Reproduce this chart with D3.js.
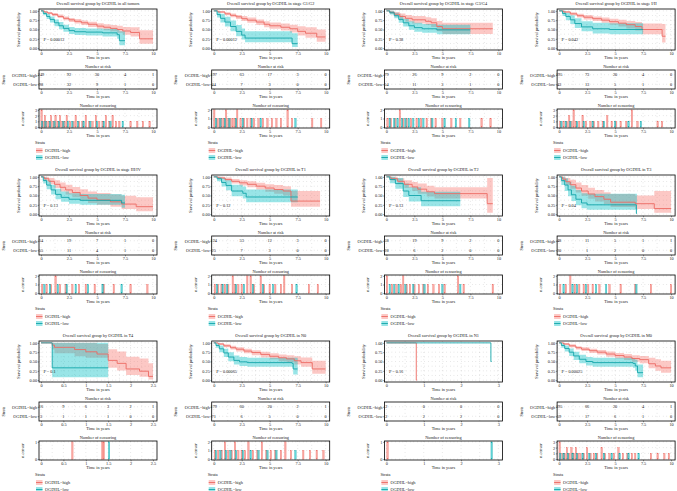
<!DOCTYPE html>
<html><head><meta charset="utf-8">
<script src="https://cdn.jsdelivr.net/npm/d3@7"></script>
<style>
body{margin:0;background:#fff;}
svg{display:block;font-family:"Liberation Serif","DejaVu Serif",serif;}
</style></head><body>
<svg id="fig" width="677" height="491"></svg>
<script>
// ---- data (12 Kaplan–Meier panels, row-major) ----
const TITLES = [
  'Overall survival group by OGDHL in all tumors',
  'Overall survival group by OGDHL in stage G1/G2',
  'Overall survival group by OGDHL in stage G3/G4',
  'Overall survival group by OGDHL in stage I/II',
  'Overall survival group by OGDHL in stage III/IV',
  'Overall survival group by OGDHL in T1',
  'Overall survival group by OGDHL in T2',
  'Overall survival group by OGDHL in T3',
  'Overall survival group by OGDHL in T4',
  'Overall survival group by OGDHL in N0',
  'Overall survival group by OGDHL in N1',
  'Overall survival group by OGDHL in M0'
];
const PVALS = ['P = 0.00013','P = 0.00012','P = 0.38','P = 0.042','P = 0.13','P = 0.12',
               'P = 0.13','P = 0.04','P = 0.1','P = 0.00065','P = 0.16','P = 0.00025'];
const XMAX = [10,10,10,10,10,10,10,10,2.5,10,3,10];
const XTICKS = [
  [0,2.5,5,7.5,10],[0,2.5,5,7.5,10],[0,2.5,5,7.5,10],[0,2.5,5,7.5,10],
  [0,2.5,5,7.5,10],[0,2.5,5,7.5,10],[0,2.5,5,7.5,10],[0,2.5,5,7.5,10],
  [0,0.5,1,1.5,2,2.5],[0,2.5,5,7.5,10],[0,1,2,3],[0,2.5,5,7.5,10]
];
const RISK_HIGH = [[249,92,30,4,1],[197,63,17,3,0],[79,26,9,2,0],[195,73,20,4,0],
  [54,19,7,1,0],[124,53,12,3,0],[58,19,9,2,0],[48,11,5,1,1],
  [16,9,6,3,2,1],[179,60,20,2,1],[2,0,0,0],[195,66,20,4,1]];
const RISK_LOW = [[98,32,9,1,0],[44,7,3,0,0],[54,11,3,1,0],[43,13,5,1,0],
  [55,11,4,1,0],[25,7,3,0,0],[28,6,2,0,0],[20,1,2,0,0],
  [3,1,1,1,0,0],[71,6,5,0,0],[2,2,2,0],[59,17,6,1,0]];
const CENS_MAX = [3,2,2,3,2,2,2,2,1,2,1,3];

// survival steps: [time, surv, lower, upper]
const SURV_HIGH = [
  [[0,1,1,1],[0.3,0.97,0.95,0.99],[0.6,0.94,0.91,0.97],[1,0.9,0.86,0.94],[1.5,0.85,0.81,0.9],[2,0.8,0.75,0.85],[2.5,0.76,0.7,0.81],[3,0.72,0.66,0.78],[3.6,0.68,0.62,0.74],[4.2,0.64,0.57,0.71],[5,0.59,0.52,0.67],[5.6,0.56,0.48,0.64],[6.2,0.53,0.45,0.62],[6.8,0.5,0.41,0.6],[7.3,0.46,0.36,0.57],[8,0.42,0.31,0.56],[8.8,0.25,0.12,0.48],[10,0.25,0.12,0.48]],
  [[0,1,1,1],[0.4,0.97,0.95,0.99],[1,0.92,0.88,0.96],[1.5,0.88,0.83,0.93],[2,0.84,0.78,0.89],[2.5,0.79,0.73,0.86],[3,0.75,0.68,0.82],[3.8,0.7,0.62,0.77],[4.5,0.64,0.56,0.72],[5,0.6,0.52,0.69],[6,0.56,0.47,0.66],[6.8,0.52,0.42,0.63],[7.5,0.45,0.34,0.59],[8.2,0.4,0.28,0.56],[9.2,0.3,0.17,0.5],[10,0.3,0.17,0.5]],
  [[0,1,1,1],[0.3,0.96,0.92,1],[0.7,0.91,0.85,0.97],[1.2,0.85,0.77,0.93],[1.7,0.8,0.71,0.89],[2.3,0.76,0.66,0.86],[3.5,0.72,0.62,0.83],[4,0.68,0.57,0.8],[4.5,0.58,0.45,0.73],[5,0.52,0.38,0.68],[9.5,0.52,0.38,0.68]],
  [[0,1,1,1],[0.4,0.97,0.95,0.99],[1,0.92,0.88,0.96],[1.6,0.87,0.82,0.92],[2.2,0.83,0.77,0.89],[3,0.79,0.73,0.85],[3.8,0.75,0.68,0.82],[4.5,0.71,0.63,0.79],[5.3,0.67,0.58,0.76],[6,0.63,0.53,0.73],[6.8,0.58,0.47,0.7],[7.4,0.5,0.37,0.66],[9,0.5,0.37,0.66],[9.2,0.32,0.15,0.65],[9.5,0.32,0.15,0.65]],
  [[0,1,1,1],[0.3,0.95,0.89,1],[0.7,0.88,0.8,0.97],[1.2,0.8,0.7,0.91],[1.7,0.72,0.61,0.85],[2.2,0.65,0.53,0.79],[2.8,0.58,0.45,0.73],[3.5,0.5,0.37,0.67],[4.2,0.43,0.3,0.61],[5,0.38,0.25,0.57],[6.2,0.33,0.2,0.53],[7.2,0.27,0.14,0.49],[8.5,0.2,0.08,0.45],[10,0.2,0.08,0.45]],
  [[0,1,1,1],[0.4,0.97,0.94,1],[1,0.93,0.88,0.98],[1.6,0.88,0.82,0.94],[2.3,0.84,0.77,0.91],[3,0.8,0.72,0.88],[3.8,0.75,0.66,0.84],[4.6,0.7,0.6,0.8],[5.4,0.66,0.55,0.78],[6.2,0.62,0.5,0.75],[6.9,0.35,0.2,0.62],[9.5,0.35,0.2,0.62]],
  [[0,1,1,1],[0.4,0.95,0.9,1],[1,0.88,0.8,0.96],[1.6,0.8,0.7,0.91],[2.3,0.73,0.62,0.86],[2.8,0.67,0.55,0.82],[3.6,0.6,0.47,0.76],[4.3,0.55,0.42,0.72],[8.8,0.55,0.42,0.72],[9,0.28,0.04,0.97],[9.5,0.28,0.04,0.97]],
  [[0,1,1,1],[0.3,0.94,0.87,1],[0.6,0.87,0.78,0.97],[1,0.79,0.68,0.92],[1.5,0.7,0.58,0.85],[2,0.62,0.49,0.78],[2.6,0.54,0.41,0.71],[3.2,0.47,0.34,0.65],[4,0.4,0.27,0.59],[4.6,0.32,0.19,0.54],[6.8,0.28,0.14,0.5],[8.5,0.15,0.04,0.62],[10,0.15,0.04,0.62]],
  [[0,1,1,1],[0.25,0.94,0.82,1],[0.3,0.88,0.72,1],[0.75,0.82,0.64,1],[1,0.76,0.6,1],[1.25,0.7,0.6,0.97],[1.5,0.53,0.33,0.83],[1.7,0.45,0.26,0.77],[1.9,0.3,0.14,0.63],[2.2,0.24,0.09,0.58],[2.4,0.1,0.02,0.45],[2.5,0.1,0.02,0.45]],
  [[0,1,1,1],[0.4,0.97,0.94,0.99],[0.9,0.92,0.88,0.96],[1.5,0.87,0.82,0.92],[2,0.83,0.77,0.88],[2.7,0.78,0.72,0.84],[3.4,0.74,0.67,0.8],[4.2,0.69,0.61,0.76],[5,0.64,0.56,0.72],[5.8,0.6,0.51,0.69],[6.5,0.57,0.48,0.67],[7.2,0.52,0.42,0.64],[7.8,0.47,0.36,0.61],[8.8,0.3,0.17,0.52],[10,0.3,0.17,0.52]],
  [[0,1,1,1],[0.8,0,0,0],[0.82,0,0,0]],
  [[0,1,1,1],[0.4,0.97,0.94,0.99],[0.9,0.92,0.88,0.96],[1.5,0.87,0.82,0.91],[2,0.83,0.78,0.88],[2.7,0.79,0.73,0.84],[3.4,0.75,0.69,0.81],[4.2,0.7,0.63,0.77],[5,0.66,0.58,0.73],[5.8,0.62,0.54,0.7],[6.5,0.58,0.49,0.67],[7.2,0.55,0.45,0.65],[8,0.44,0.32,0.6],[8.6,0.38,0.25,0.56],[9.1,0.33,0.2,0.52],[10,0.33,0.2,0.52]]
];
const SURV_LOW = [
  [[0,1,1,1],[0.2,0.93,0.88,0.98],[0.5,0.85,0.78,0.92],[0.8,0.77,0.69,0.85],[1.2,0.68,0.59,0.77],[1.6,0.6,0.51,0.7],[2,0.53,0.44,0.63],[2.5,0.47,0.38,0.57],[3,0.44,0.35,0.54],[4,0.43,0.34,0.53],[5.5,0.41,0.31,0.52],[6.8,0.36,0.25,0.5],[7,0.2,0.08,0.45],[7.5,0.2,0.08,0.45]],
  [[0,1,1,1],[0.3,0.9,0.82,0.99],[0.6,0.8,0.69,0.92],[1,0.7,0.58,0.84],[1.5,0.58,0.45,0.74],[2,0.45,0.32,0.62],[2.5,0.35,0.23,0.53],[2.8,0.27,0.16,0.45],[6.8,0.27,0.16,0.45],[7,0.12,0.03,0.4],[7.5,0.12,0.03,0.4]],
  [[0,1,1,1],[0.3,0.95,0.9,1],[0.7,0.87,0.8,0.95],[1.1,0.77,0.68,0.87],[1.5,0.68,0.58,0.79],[2,0.6,0.49,0.72],[2.5,0.55,0.44,0.68],[3.2,0.52,0.41,0.65],[4.5,0.49,0.37,0.63],[7.5,0.49,0.37,0.63]],
  [[0,1,1,1],[0.3,0.93,0.86,1],[0.6,0.85,0.75,0.95],[1,0.76,0.65,0.88],[1.4,0.66,0.54,0.8],[2,0.57,0.45,0.72],[3,0.52,0.39,0.68],[4.5,0.5,0.37,0.67],[7.5,0.5,0.37,0.67]],
  [[0,1,1,1],[0.2,0.9,0.82,0.99],[0.5,0.78,0.67,0.9],[0.9,0.65,0.53,0.79],[1.3,0.53,0.4,0.68],[1.8,0.45,0.33,0.61],[2.5,0.4,0.28,0.56],[3.5,0.37,0.25,0.54],[7.2,0.3,0.17,0.52],[7.5,0.3,0.17,0.52]],
  [[0,1,1,1],[0.3,0.95,0.88,1],[0.7,0.85,0.74,0.97],[1.1,0.77,0.64,0.91],[1.6,0.62,0.48,0.79],[2.6,0.56,0.42,0.74],[2.9,0.46,0.32,0.66],[7.5,0.46,0.32,0.66]],
  [[0,1,1,1],[0.3,0.93,0.83,1],[0.8,0.82,0.68,0.97],[1.5,0.62,0.46,0.82],[2,0.5,0.34,0.72],[3.1,0.36,0.21,0.6],[6.6,0.36,0.21,0.6]],
  [[0,1,1,1],[0.2,0.9,0.78,1],[0.5,0.78,0.62,0.96],[0.8,0.65,0.48,0.86],[1.1,0.52,0.35,0.76],[1.5,0.4,0.24,0.65],[2,0.3,0.16,0.56],[2.5,0.25,0.12,0.55],[6.9,0.02,0,0.55],[6.95,0.02,0,0.55]],
  [[0,1,1,1],[0.25,0.33,0.08,1],[1.5,0.33,0.08,1]],
  [[0,1,1,1],[0.2,0.93,0.87,0.99],[0.5,0.84,0.75,0.93],[0.9,0.73,0.62,0.84],[1.3,0.62,0.51,0.75],[1.8,0.53,0.42,0.66],[2.3,0.49,0.38,0.62],[3,0.47,0.36,0.6],[7,0.45,0.34,0.6],[7.1,0.3,0.15,0.6],[7.5,0.3,0.15,0.6]],
  [[0,1,1,1],[2.8,0.5,0.5,0.5],[2.82,0.5,0.5,0.5]],
  [[0,1,1,1],[0.2,0.93,0.87,0.99],[0.5,0.85,0.77,0.93],[0.9,0.75,0.65,0.85],[1.3,0.65,0.54,0.76],[1.8,0.56,0.45,0.68],[2.4,0.5,0.39,0.62],[3,0.47,0.36,0.6],[6.6,0.45,0.33,0.58],[6.8,0.38,0.25,0.55],[7,0.2,0.08,0.42],[7.5,0.2,0.08,0.42]]
];

// censoring: [time, count]
const CENS_HIGH = [
  [[0.05,3],[0.2,1],[0.35,2],[0.5,1],[0.7,1],[0.9,2],[1.1,1],[1.3,2],[1.5,1],[1.7,2],[1.9,1],[2.1,1],[2.3,2],[2.6,1],[2.9,1],[3.1,2],[3.4,1],[3.7,1],[4,2],[4.3,1],[4.6,1],[4.9,2],[5.2,1],[5.5,1],[5.8,2],[6.1,1],[6.4,2],[6.7,1],[7,1],[8,1],[8.6,1],[9.1,1],[9.7,1]],
  [[0.05,2],[0.3,1],[0.5,1],[0.7,1],[0.9,1],[1.1,2],[1.3,1],[1.5,1],[1.7,1],[1.9,1],[2.1,2],[2.4,1],[2.7,1],[3,1],[3.3,1],[3.6,1],[4,1],[4.4,1],[4.8,1],[5.2,1],[5.6,1],[6,1],[6.6,2],[7,1],[8.8,1],[9.6,1]],
  [[0.1,1],[0.4,1],[0.8,1],[1.2,2],[1.5,1],[1.8,1],[2.2,1],[2.7,1],[3.1,1],[3.6,1],[4,1],[4.4,1],[5,1],[5.8,1],[6.6,1],[8.5,1],[9.3,1]],
  [[0.1,1],[0.4,1],[0.7,1],[0.9,2],[1.1,1],[1.3,3],[1.5,1],[1.8,1],[2.1,2],[2.4,1],[2.8,1],[3.1,1],[3.5,1],[3.9,1],[4.3,2],[4.7,1],[5.1,1],[5.5,1],[6,1],[6.5,3],[7,1],[8.8,1],[9.2,1]],
  [[0.1,1],[0.5,1],[0.9,1],[1.3,2],[1.7,1],[2.2,1],[2.8,1],[3.4,1],[4,1],[4.8,1],[5.6,1],[6.5,1],[8,1],[9.5,1]],
  [[0.1,1],[0.4,1],[0.7,1],[1,1],[1.3,1],[1.7,2],[1.9,1],[2.2,1],[2.5,1],[3,2],[3.3,2],[3.6,1],[4.2,2],[4.5,1],[5,1],[5.5,1],[6,1],[6.3,2],[7,1],[8.5,1],[9.3,1]],
  [[0.05,2],[0.5,1],[0.9,1],[1.3,1],[1.5,2],[1.8,1],[2.1,1],[2.5,1],[2.9,1],[3.3,1],[3.7,1],[4.2,1],[4.7,1],[5.2,1],[6.4,2],[6.9,1],[9.5,1]],
  [[0.1,1],[0.6,1],[1,2],[1.4,1],[1.8,1],[2.2,1],[2.6,1],[3,1],[3.6,1],[4.5,1],[5.5,1],[6.8,1],[8.2,1],[10,1]],
  [[0.7,1],[1.37,1],[1.4,1]],
  [[0.1,1],[0.4,1],[0.7,1],[1,2],[1.3,1],[1.6,1],[1.9,2],[2.2,1],[2.5,1],[2.8,1],[3.1,2],[3.5,1],[3.9,1],[4.3,2],[4.7,1],[5.1,1],[5.5,1],[6,1],[6.4,2],[6.9,1],[8,1],[8.6,1],[9.2,1],[9.8,1]],
  [[0.03,1]],
  [[0.05,3],[0.3,1],[0.5,1],[0.7,2],[0.9,1],[1.1,2],[1.3,1],[1.5,2],[1.7,1],[1.9,1],[2.2,1],[2.5,2],[2.8,1],[3.1,1],[3.4,1],[3.8,2],[4.1,1],[4.5,1],[4.9,1],[5.3,2],[5.7,1],[6.1,1],[6.5,1],[6.8,1],[8.2,1],[8.8,1],[9.4,1],[9.8,1]]
];
const CENS_LOW = [
  [[0.1,1],[0.4,1],[0.8,1],[1.2,1],[1.6,1],[2,1],[2.4,1],[2.8,1],[3.3,1],[3.8,1],[4.4,1],[5,1],[5.6,1],[6.2,1],[7.3,1]],
  [[0.2,1],[0.6,1],[1,1],[1.4,1],[2,1],[2.6,1],[3.4,1],[4.2,1],[7.3,1]],
  [[0.3,1],[0.7,1],[1,1],[1.4,1],[1.7,1],[2,1],[2.4,1],[2.9,1],[3.3,1],[4.1,1],[5.2,1],[6.2,1],[7.4,1]],
  [[0.2,1],[0.6,1],[1,1],[1.6,1],[2.2,1],[3,1],[4,1],[5,1],[6.2,1],[7.3,1]],
  [[0.3,1],[0.8,1],[1.5,1],[2.3,1],[3.1,1],[4.2,1],[5.5,1],[7.2,1]],
  [[0.3,1],[0.8,1],[1.2,1],[2,1],[2.7,1],[3.5,1],[4.4,1],[5.3,1],[7.4,1]],
  [[0.3,1],[0.7,1],[1.1,1],[1.7,1],[2.4,1],[3.4,1],[5,1],[6.6,1]],
  [[0.4,1],[1.2,1],[1.6,1],[2.4,1],[3.3,1],[4.2,1],[6.9,1]],
  [[1.52,1]],
  [[0.2,1],[0.6,1],[1.1,1],[1.5,1],[2,1],[2.6,1],[3.3,1],[4,1],[4.8,1],[5.6,1],[7.3,1]],
  [[2.82,1]],
  [[0.1,1],[0.4,1],[0.8,1],[1.2,1],[1.6,1],[2.1,1],[2.7,1],[3.3,1],[4,1],[4.7,1],[5.4,1],[6.2,1],[7.1,1]]
];
const STRATA = ['OGDHL=high','OGDHL=low'];
const COL_LINE = ['#EC6A63','#12A5A9'];
const COL_FILL = ['#F8766D','#00BFC4'];

// ---- layout ----
const svg = d3.select('#fig');
const COLW = 172.7, ROWH = 166;
const X0 = 39, X1 = 157;
const FS = 4.3;
const SURV_Y = [9, 50], RISK_Y = [70, 89], CENS_Y = [109, 128];

function dotted(g, x, y, xs, ys){
  const [a, b] = x.range(), [c, d] = y.range();
  ys.forEach(v => g.append('line').attr('x1', a).attr('x2', b).attr('y1', y(v)).attr('y2', y(v))
    .attr('stroke', '#8a8a8a').attr('stroke-width', 0.45).attr('stroke-dasharray', '0.45 3.2'));
  xs.forEach(v => g.append('line').attr('y1', c).attr('y2', d).attr('x1', x(v)).attr('x2', x(v))
    .attr('stroke', '#8a8a8a').attr('stroke-width', 0.45).attr('stroke-dasharray', '0.45 3.2'));
}
function box(g, y){
  g.append('rect').attr('x', X0).attr('y', y[0]).attr('width', X1 - X0).attr('height', y[1] - y[0])
    .attr('fill', 'none').attr('stroke', '#000').attr('stroke-width', 0.8);
}
function xaxis(g, x, yb, ticks){
  const fmt = d3.format('~g');
  const a = g.append('g').attr('transform', `translate(0,${yb})`)
    .call(d3.axisBottom(x).tickValues(ticks).tickSize(1.3).tickPadding(0.6).tickFormat(fmt));
  a.select('.domain').remove();
  a.selectAll('line').attr('stroke-width', 0.4);
  a.selectAll('text').attr('font-size', FS).attr('fill', '#222');
  a.attr('font-family', null);
  g.append('text').attr('x', (X0 + X1) / 2).attr('y', yb + 8.7).attr('text-anchor', 'middle')
    .attr('font-size', FS).attr('fill', '#222').text('Time in years');
}
function yaxis(g, y, ticks, fmt){
  const a = g.append('g').attr('transform', `translate(${X0},0)`)
    .call(d3.axisLeft(y).tickValues(ticks).tickSize(1.3).tickPadding(0.6).tickFormat(fmt));
  a.select('.domain').remove();
  a.selectAll('line').attr('stroke-width', 0.4);
  a.selectAll('text').attr('font-size', FS).attr('fill', '#222');
  a.attr('font-family', null);
  return a;
}
function midMinor(ticks){
  const out = ticks.slice();
  for (let k = 0; k < ticks.length - 1; k++) out.push((ticks[k] + ticks[k + 1]) / 2);
  return out;
}
function label(g, txt, x, y, rot){
  const t = g.append('text').attr('font-size', FS).attr('fill', '#222').attr('text-anchor', 'middle').text(txt);
  if (rot) t.attr('transform', `translate(${x},${y}) rotate(-90)`);
  else t.attr('x', x).attr('y', y);
  return t;
}

function drawPanel(i){
  const col = i % 4, row = Math.floor(i / 4);
  const g = svg.append('g').attr('transform', `translate(${col * COLW},${row * ROWH})`);
  const xmax = XMAX[i], ticks = XTICKS[i];
  const x = d3.scaleLinear([-0.018 * xmax, 1.036 * xmax], [X0, X1]);
  const xMinor = midMinor(ticks);

  label(g, TITLES[i], (X0 + X1) / 2, 5.2);

  // survival curves
  const ys = d3.scaleLinear([-0.05, 1.05], [SURV_Y[1], SURV_Y[0]]);
  dotted(g, x, ys, xMinor, [0, 0.125, 0.25, 0.375, 0.5, 0.625, 0.75, 0.875, 1]);
  const area = d3.area().curve(d3.curveStepAfter).x(d => x(d[0])).y0(d => ys(d[2])).y1(d => ys(d[3]));
  const line = d3.line().curve(d3.curveStepAfter).x(d => x(d[0])).y(d => ys(d[1]));
  [SURV_HIGH[i], SURV_LOW[i]].forEach((s, k) => g.append('path').attr('d', area(s))
    .attr('fill', COL_FILL[k]).attr('fill-opacity', 0.4).attr('stroke', 'none'));
  [SURV_HIGH[i], SURV_LOW[i]].forEach((s, k) => g.append('path').attr('d', line(s))
    .attr('fill', 'none').attr('stroke', COL_LINE[k]).attr('stroke-width', 0.9));
  box(g, SURV_Y);
  yaxis(g, ys, [0, 0.25, 0.5, 0.75, 1], d3.format('.2f'));
  label(g, 'Survival probability', 19.5, (SURV_Y[0] + SURV_Y[1]) / 2, true);
  g.append('text').attr('x', x(0) + 2.5).attr('y', ys(0.2)).attr('font-size', FS).attr('fill', '#222').text(PVALS[i]);
  xaxis(g, x, SURV_Y[1], ticks);

  // number at risk
  label(g, 'Number at risk', (X0 + X1) / 2, RISK_Y[0] - 1.6);
  const yr = d3.scalePoint(STRATA, [RISK_Y[0], RISK_Y[1]]).padding(0.5);
  dotted(g, x, yr, xMinor, STRATA);
  box(g, RISK_Y);
  [RISK_HIGH[i], RISK_LOW[i]].forEach((r, k) => {
    g.selectAll(null).data(r).join('text')
      .attr('x', (d, j) => x(ticks[j])).attr('y', yr(STRATA[k]) + 1.5)
      .attr('text-anchor', 'middle').attr('font-size', FS).attr('fill', '#222').text(d => d);
  });
  yaxis(g, yr, STRATA, d => d);
  label(g, 'Strata', 4.5, (RISK_Y[0] + RISK_Y[1]) / 2, true);
  xaxis(g, x, RISK_Y[1], ticks);

  // number of censoring
  label(g, 'Number of censoring', (X0 + X1) / 2, CENS_Y[0] - 1.6);
  const cm = CENS_MAX[i];
  const yc = d3.scaleLinear([-0.05 * cm, 1.05 * cm], [CENS_Y[1], CENS_Y[0]]);
  const cTicks = d3.range(0, cm + 1);
  dotted(g, x, yc, xMinor, cTicks);
  [CENS_HIGH[i], CENS_LOW[i]].forEach((c, k) => {
    g.selectAll(null).data(c).join('rect')
      .attr('x', d => x(d[0]) - 0.7).attr('width', 1.4)
      .attr('y', d => yc(d[1])).attr('height', d => yc(0) - yc(d[1]))
      .attr('fill', COL_FILL[k]).attr('fill-opacity', 0.6)
      .attr('stroke', COL_LINE[k]).attr('stroke-width', 0.35);
  });
  box(g, CENS_Y);
  yaxis(g, yc, cTicks, d3.format('d'));
  label(g, 'n.censor', 24, (CENS_Y[0] + CENS_Y[1]) / 2, true);
  xaxis(g, x, CENS_Y[1], ticks);

  // legend
  g.append('text').attr('x', 35).attr('y', 144).attr('font-size', FS).attr('fill', '#222').text('Strata');
  STRATA.forEach((s, k) => {
    const yy = 148 + k * 7;
    g.append('rect').attr('x', 36).attr('y', yy).attr('width', 6.5).attr('height', 5)
      .attr('fill', COL_FILL[k]).attr('fill-opacity', 0.4);
    g.append('line').attr('x1', 36).attr('x2', 42.5).attr('y1', yy + 2.5).attr('y2', yy + 2.5)
      .attr('stroke', COL_LINE[k]).attr('stroke-width', 0.9);
    g.append('text').attr('x', 45).attr('y', yy + 4).attr('font-size', FS).attr('fill', '#222').text(s);
  });
}

d3.range(12).forEach(drawPanel);
</script></body></html>
